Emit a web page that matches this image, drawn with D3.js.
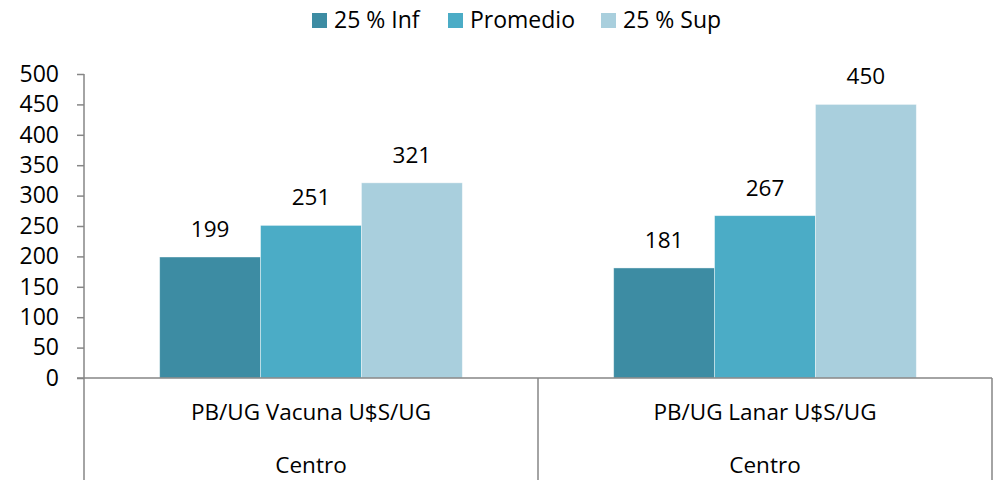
<!DOCTYPE html>
<html>
<head>
<meta charset="utf-8">
<script src="https://cdn.jsdelivr.net/npm/d3@7"></script>
<style>
  body { margin: 0; background: #fff; }
  svg { display: block; font-family: "Open Sans", sans-serif; }
</style>
</head>
<body>
<div id="chart"></div>
<script>
// chart data
const categories = ['PB/UG Vacuna U$S/UG', 'PB/UG Lanar U$S/UG'];
const regions = ['Centro', 'Centro'];
const series = ['25 % Inf', 'Promedio', '25 % Sup'];
const inf25 = [199, 181];
const promedio = [251, 267];
const sup25 = [321, 450];
const yTicks = [0, 50, 100, 150, 200, 250, 300, 350, 400, 450, 500];

const colors = ['#3d8ca3', '#4bacc6', '#a9cfdd'];
const values = [inf25, promedio, sup25];

const width = 998, height = 480;
const margin = { top: 74, right: 6, bottom: 102, left: 84 };
const axisColor = '#868686';
const fontSize = '22.5px';

const svg = d3.select('#chart').append('svg')
  .attr('width', width)
  .attr('height', height);

const x0 = d3.scaleBand()
  .domain(d3.range(categories.length))
  .range([margin.left, width - margin.right])
  .padding(0);

// bars occupy the middle 2/3 of each category cell
const x1 = d3.scaleBand()
  .domain(d3.range(series.length))
  .range([x0.bandwidth() / 6, x0.bandwidth() * 5 / 6])
  .padding(0);

const y = d3.scaleLinear()
  .domain([0, 500])
  .range([height - margin.bottom, margin.top]);

// y axis
const yAxis = svg.append('g')
  .attr('transform', `translate(${margin.left},0)`)
  .call(d3.axisLeft(y).tickValues(yTicks).tickSize(7).tickPadding(18));
yAxis.select('.domain').remove();
yAxis.selectAll('.tick line').attr('stroke', axisColor).attr('stroke-width', 1.5);
yAxis.selectAll('.tick text')
  .attr('fill', '#000')
  .style('font-size', '23px')
  .style('font-family', '"Open Sans", sans-serif');

// bars
categories.forEach((c, ci) => {
  const g = svg.append('g').attr('transform', `translate(${x0(ci)},0)`);
  series.forEach((s, si) => {
    const v = values[si][ci];
    g.append('rect')
      .attr('x', x1(si))
      .attr('y', y(v))
      .attr('width', x1.bandwidth())
      .attr('height', y(0) - y(v))
      .attr('fill', colors[si])
      .attr('stroke', '#ffffff')
      .attr('stroke-opacity', 0.5)
      .attr('stroke-width', 0.8);
    g.append('text')
      .attr('x', x1(si) + x1.bandwidth() / 2)
      .attr('y', y(v) - 20)
      .attr('text-anchor', 'middle')
      .style('font-size', fontSize)
      .text(v);
  });
});

// axis lines
const y0 = y(0);
svg.append('line')
  .attr('x1', margin.left - 7).attr('x2', width - margin.right)
  .attr('y1', y0).attr('y2', y0)
  .attr('stroke', axisColor).attr('stroke-width', 1.5);
svg.append('line')
  .attr('x1', margin.left).attr('x2', margin.left)
  .attr('y1', margin.top).attr('y2', height)
  .attr('stroke', axisColor).attr('stroke-width', 1.5);

// category dividers
d3.range(1, categories.length + 1).forEach(i => {
  const xx = i < categories.length ? x0(i) : width - margin.right;
  svg.append('line')
    .attr('x1', xx).attr('x2', xx)
    .attr('y1', y0).attr('y2', height)
    .attr('stroke', axisColor).attr('stroke-width', 1.5);
});

// category labels (two levels)
categories.forEach((c, ci) => {
  const cx = x0(ci) + x0.bandwidth() / 2;
  svg.append('text')
    .attr('x', cx).attr('y', 420)
    .attr('text-anchor', 'middle')
    .style('font-size', fontSize)
    .text(c);
  svg.append('text')
    .attr('x', cx).attr('y', 473)
    .attr('text-anchor', 'middle')
    .style('font-size', fontSize)
    .text(regions[ci]);
});

// legend
const legendX = [312, 448, 601];
series.forEach((s, si) => {
  const lg = svg.append('g').attr('transform', `translate(${legendX[si]},13)`);
  lg.append('rect')
    .attr('width', 15).attr('height', 15)
    .attr('fill', colors[si]);
  lg.append('text')
    .attr('x', 22).attr('y', 15)
    .style('font-size', '23px')
    .text(s);
});
</script>
</body>
</html>
